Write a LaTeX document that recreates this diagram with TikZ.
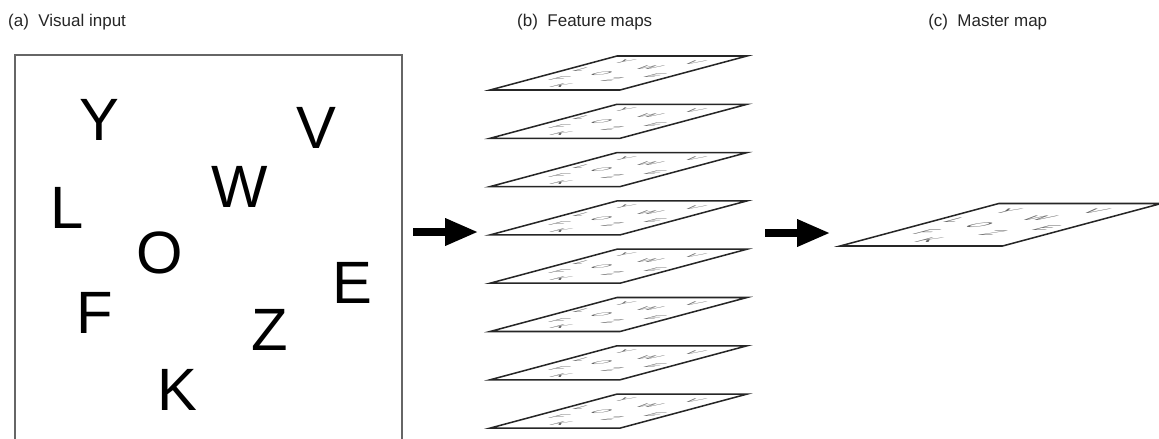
\documentclass[tikz,border=0pt]{standalone}
\usepackage{fontspec}
\setmainfont{Liberation Sans}
\usetikzlibrary{arrows.meta}
\tikzset{
  boxline/.style={draw=black!60, line width=1.6pt},
  maplines/.style={draw=black!85, line width=1.3pt, line join=miter},
  bigletter/.style={font=\fontsize{51}{51}\selectfont, inner sep=0pt},
  mapletter/.style={text=black!60, font=\fontsize{51}{51}\selectfont, inner sep=0pt},
  caption/.style={anchor=base west, font=\fontsize{14.5}{17}\selectfont, text=black!85, inner sep=0pt},
  flow/.style={line width=6pt, -{Triangle[length=28pt, width=22pt]}}
}
\newcommand{\lettermap}[4]{%
  \begin{scope}[shift={(#2,#3)}, x={(#4*3.9cm,0cm)}, y={(#4*3.81cm,#4*1.02cm)}]
    \pgfmathsetmacro\ma{0.336*#4}
    \pgfmathsetmacro\mc{0.332*#4}
    \pgfmathsetmacro\md{0.089*#4}
    \draw[maplines] (0,0) coordinate (#1) -- (1,0) -- (1,1) -- (0,1) -- cycle;
    \foreach \ltr/\u/\v in {Y/0.22/0.17, V/0.78/0.19, W/0.58/0.34, L/0.13/0.40, O/0.38/0.51,
                            E/0.87/0.59, F/0.21/0.67, Z/0.66/0.71, K/0.42/0.87}
      \node[mapletter, cm={\ma,0,\mc,\md,(0,0)}] (#1-\ltr) at (\u,1-\v) {\ltr};
  \end{scope}}

\begin{document}
\begin{tikzpicture}[x=0.03cm, y=-0.03cm]
\useasboundingbox (0,0) rectangle (1159,438);
\node[caption] (cap-a) at (8,26.5) {(a)\ \ Visual input};
\node[caption] (cap-b) at (517,26.5) {(b)\ \ Feature maps};
\node[caption] (cap-c) at (928,26.5) {(c)\ \ Master map};
\draw[boxline] (15,445) -- (15,55) -- (402,55) -- (402,445);
\foreach \ltr/\x/\y in {Y/99/120, V/316/128, W/240/187, L/67/208, O/160/253,
                        E/352/283, F/95/313, Z/270/330, K/177/390}
  \node[bigletter] (in-\ltr) at (\x,\y) {\ltr};
\foreach \i in {0,...,7} {
  \lettermap{fm\i}{490}{90+48.3*\i}{1}
}
\lettermap{master}{840}{246}{1.25}
\coordinate (a1) at (413,232);
\coordinate (b1) at (478,232);
\coordinate (a2) at (765,233);
\coordinate (b2) at (830,233);
\draw[flow] (a1) -- (b1);
\draw[flow] (a2) -- (b2);
\end{tikzpicture}
\end{document}
